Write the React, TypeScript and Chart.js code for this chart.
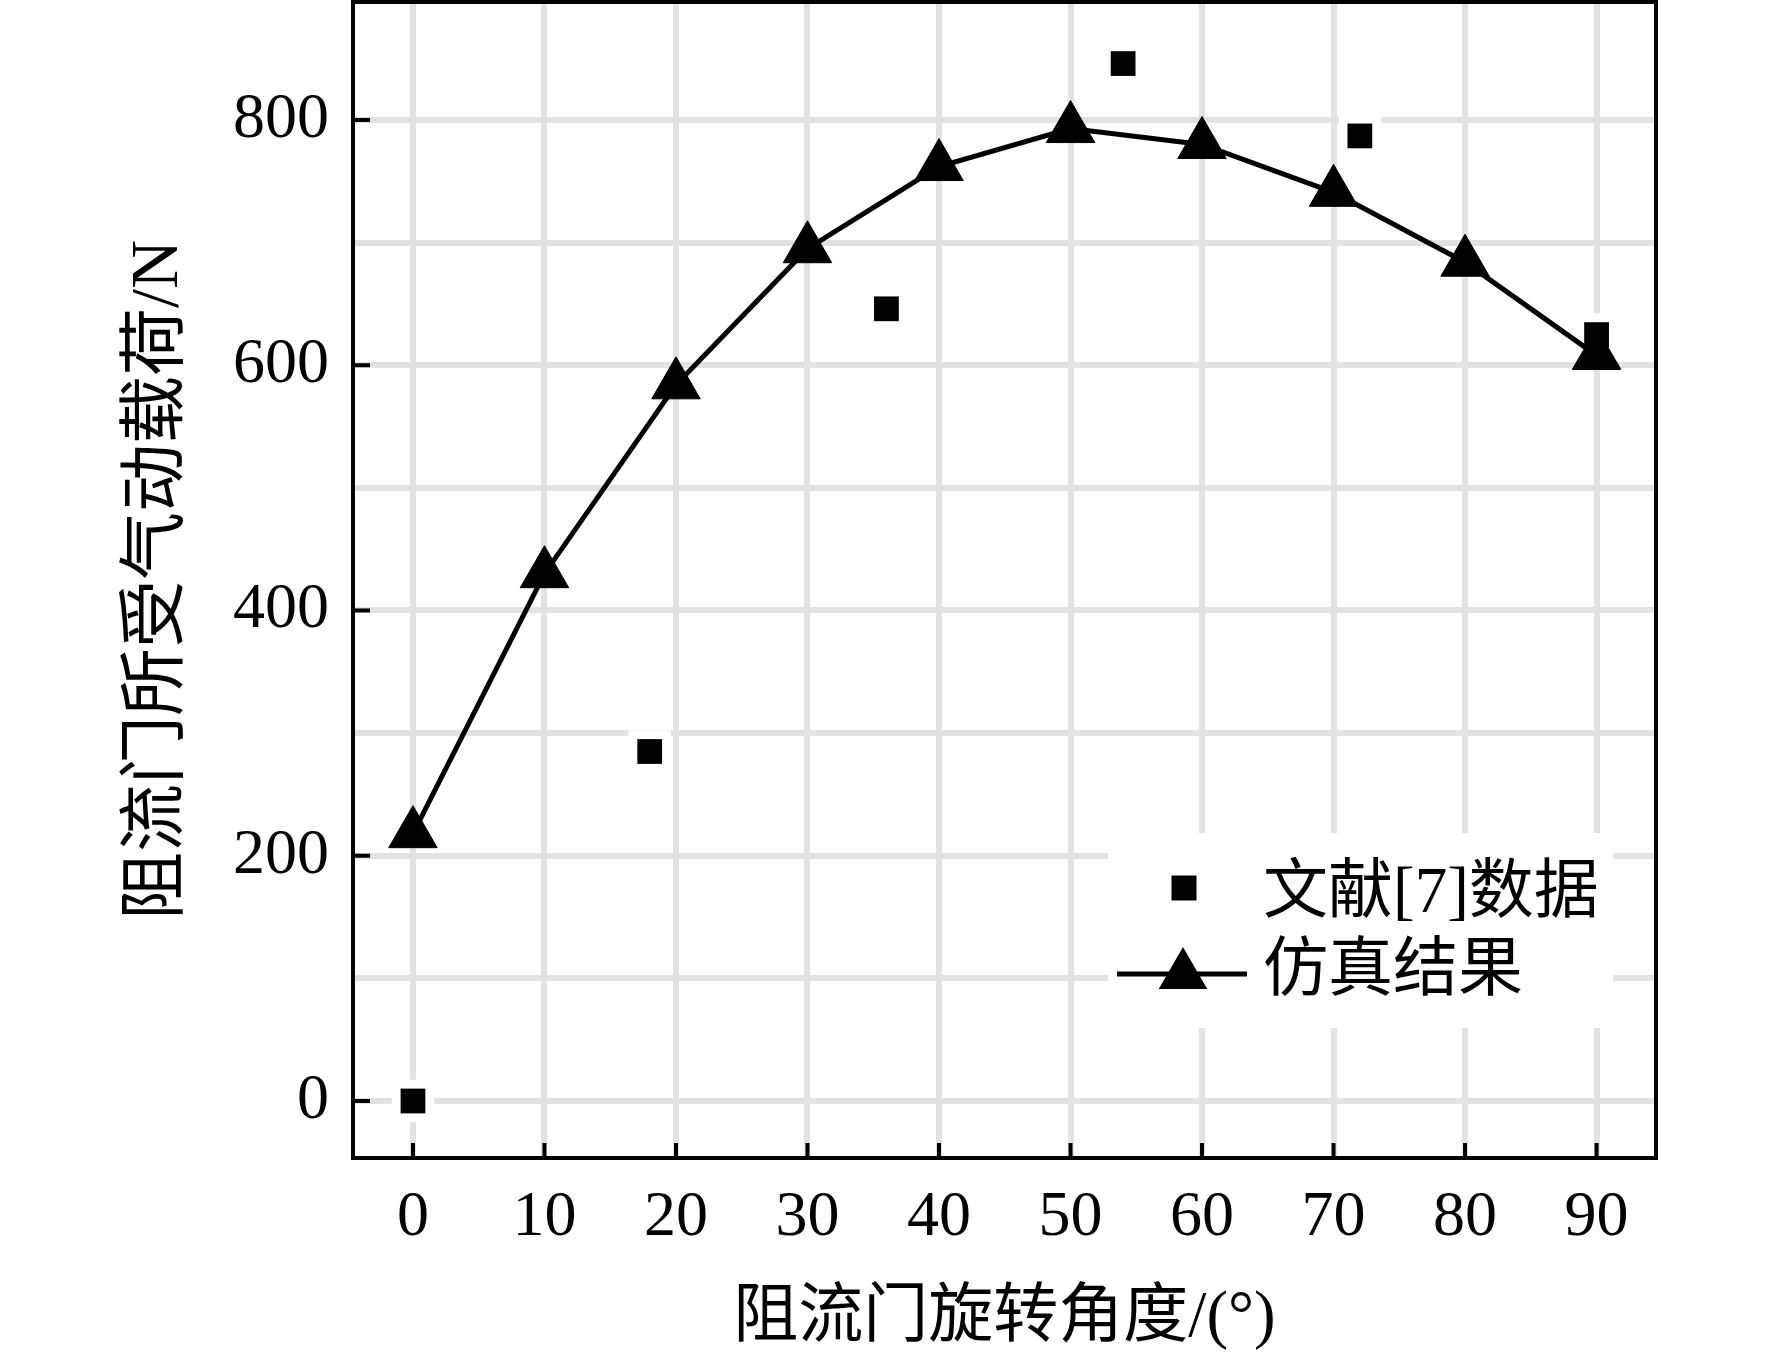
import React, { useEffect, useRef } from 'react';
import { Chart, registerables } from 'chart.js';

Chart.register(...registerables);

// ---- data ----
const angles = [0, 10, 20, 30, 40, 50, 60, 70, 80, 90];
const simValues = [218, 430, 584, 695, 762, 793, 780, 741, 684, 608];
const refAngles = [0, 18, 36, 54, 72, 90];
const refValues = [0, 285, 646, 846, 787, 625];
const xTicks = [0, 10, 20, 30, 40, 50, 60, 70, 80, 90];
const yGridTicks = [0, 100, 200, 300, 400, 500, 600, 700, 800];
const yLabelTicks = [0, 200, 400, 600, 800];
const xTitle = '阻流门旋转角度/(°)';
const yTitle = '阻流门所受气动载荷/N';
const legendLabels = ['文献[7]数据', '仿真结果'];

const FONT = "'Liberation Serif', 'Times New Roman', 'Noto Sans CJK SC', serif";

const framePlugin = {
  id: 'frameTicksLegend',
  afterDatasetsDraw(chart: any) {
    const { ctx, chartArea: a, scales } = chart;
    const xs = scales.x;
    const ys = scales.y;
    ctx.save();
    // inner tick marks
    ctx.strokeStyle = '#000';
    ctx.lineWidth = 4;
    ctx.lineCap = 'butt';
    xTicks.forEach((v) => {
      const px = xs.getPixelForValue(v);
      ctx.beginPath();
      ctx.moveTo(px, a.bottom);
      ctx.lineTo(px, a.bottom - 15);
      ctx.stroke();
    });
    yLabelTicks.forEach((v) => {
      const py = ys.getPixelForValue(v);
      ctx.beginPath();
      ctx.moveTo(a.left, py);
      ctx.lineTo(a.left + 17, py);
      ctx.stroke();
    });
    // frame
    ctx.lineWidth = 4;
    ctx.strokeRect(a.left, a.top, a.right - a.left, a.bottom - a.top);

    // legend
    const bx = 1108, by = 833, bw = 505, bh = 195;
    ctx.fillStyle = '#fff';
    ctx.fillRect(bx, by, bw, bh);
    ctx.fillStyle = '#000';
    // square marker
    const s = 25;
    ctx.fillRect(1184 - s / 2, 888 - s / 2, s, s);
    // line + triangle
    ctx.lineWidth = 5;
    ctx.beginPath();
    ctx.moveTo(1117, 974);
    ctx.lineTo(1247, 974);
    ctx.stroke();
    const r = 28, cx = 1183, cy = 975;
    ctx.beginPath();
    ctx.moveTo(cx, cy - r);
    ctx.lineTo(cx + r * Math.sin(Math.PI * 2 / 3), cy + r / 2);
    ctx.lineTo(cx - r * Math.sin(Math.PI * 2 / 3), cy + r / 2);
    ctx.closePath();
    ctx.fill();
    ctx.font = `65px ${FONT}`;
    ctx.textAlign = 'left';
    ctx.textBaseline = 'middle';
    ctx.fillText(legendLabels[0], 1263, 895);
    ctx.fillText(legendLabels[1], 1263, 973);
    ctx.restore();
  },
};

export default function App() {
  const ref = useRef<HTMLCanvasElement | null>(null);
  useEffect(() => {
    if (!ref.current) return;
    const chart = new Chart(ref.current, {
      type: 'scatter',
      data: {
        datasets: [
          {
            label: 'halo',
            data: refAngles.map((x, i) => ({ x, y: refValues[i] })),
            pointStyle: 'rect',
            pointRadius: 30,
            pointBackgroundColor: '#fff',
            pointBorderWidth: 0,
            showLine: false,
            order: 3,
          },
          {
            label: legendLabels[1],
            data: angles.map((x, i) => ({ x, y: simValues[i] })),
            showLine: true,
            borderColor: '#000',
            borderWidth: 5,
            tension: 0,
            pointStyle: 'triangle',
            pointRadius: 28,
            pointBackgroundColor: '#000',
            pointBorderColor: '#000',
            pointBorderWidth: 1,
            order: 2,
          },
          {
            label: legendLabels[0],
            data: refAngles.map((x, i) => ({ x, y: refValues[i] })),
            showLine: false,
            pointStyle: 'rect',
            pointRadius: 17.5,
            pointBackgroundColor: '#000',
            pointBorderWidth: 0,
            order: 1,
          },
        ],
      },
      options: {
        animation: false,
        responsive: false,
        devicePixelRatio: 1,
        layout: { autoPadding: false, padding: { left: 0, top: 2, right: 116, bottom: 0 } },
        plugins: { legend: { display: false }, tooltip: { enabled: false } },
        scales: {
          x: {
            type: 'linear',
            min: -4.56,
            max: 94.52,
            afterBuildTicks: (s: any) => {
              s.ticks = xTicks.map((v) => ({ value: v }));
            },
            afterFit: (s: any) => {
              s.height = 204;
              s.paddingLeft = 0;
              s.paddingRight = 0;
              s.paddingTop = 0;
              s.paddingBottom = 0;
            },
            grid: { color: '#e2e2e2', lineWidth: 6, drawTicks: false },
            border: { display: false },
            ticks: {
              color: '#000',
              font: { family: FONT, size: 64 },
              padding: 22,
              maxRotation: 0,
              autoSkip: false,
            },
            title: {
              display: true,
              text: xTitle,
              color: '#000',
              font: { family: FONT, size: 65 },
              padding: { top: 0, bottom: 4 },
            },
          },
          y: {
            type: 'linear',
            min: -46.5,
            max: 896.2,
            afterBuildTicks: (s: any) => {
              s.ticks = yGridTicks.map((v) => ({ value: v }));
            },
            afterFit: (s: any) => {
              s.width = 353;
              s.paddingLeft = 0;
              s.paddingRight = 0;
              s.paddingTop = 0;
              s.paddingBottom = 0;
            },
            grid: { color: '#e2e2e2', lineWidth: 6, drawTicks: false },
            border: { display: false },
            ticks: {
              color: '#000',
              font: { family: FONT, size: 64 },
              padding: 24,
              autoSkip: false,
              callback: (v: any) => (yLabelTicks.includes(Number(v)) ? String(v) : ''),
            },
            title: {
              display: true,
              text: yTitle,
              color: '#000',
              font: { family: FONT, size: 68 },
              padding: { top: 118, bottom: 0 },
            },
          },
        },
      },
      plugins: [framePlugin],
    });
    return () => chart.destroy();
  }, []);
  return (
    <div style={{ position: 'fixed', left: 0, top: 0, width: 1772, height: 1362, background: '#fff' }}>
      <canvas ref={ref} width={1772} height={1362} style={{ width: 1772, height: 1362 }} />
    </div>
  );
}
